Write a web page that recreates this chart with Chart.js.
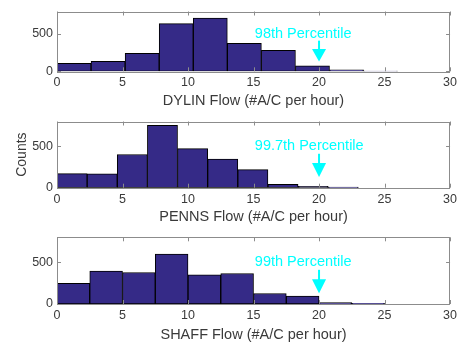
<!DOCTYPE html>
<html>
<head>
  <meta charset="utf-8">
  <title>Flow histograms</title>
  <script src="https://cdn.jsdelivr.net/npm/chart.js"></script>
  <style>
    body { margin: 0; background: #ffffff; }
    .panel { position: absolute; left: 0; width: 461px; }
  </style>
</head>
<body>
  <div class="panel" style="top:0px;height:112px"><canvas id="c1"></canvas></div>
  <div class="panel" style="top:110px;height:118px"><canvas id="c2"></canvas></div>
  <div class="panel" style="top:225px;height:121px"><canvas id="c3"></canvas></div>

  <script>
    // histogram bins (lower edge of first bin = 0), 10 bins each
    var dylinBinWidth = 2.6;
    var dylinCounts = [106, 134, 240, 638, 711, 374, 280, 73, 20, 4];
    var pennsBinWidth = 2.3;
    var pennsCounts = [171, 167, 401, 754, 472, 345, 218, 40, 16, 8];
    var shaffBinWidth = 2.5;
    var shaffCounts = [248, 394, 378, 598, 350, 366, 126, 94, 16, 8];

    var xTicks = [0, 5, 10, 15, 20, 25, 30];
    var yTicks = [0, 500];
    var xMax = 30;
    var yMax = 800;

    var xLabels = ["DYLIN Flow (#A/C per hour)", "PENNS Flow (#A/C per hour)", "SHAFF Flow (#A/C per hour)"];
    var percentileLabels = ["98th Percentile", "99.7th Percentile", "99th Percentile"];
    var arrowX = 20;        // percentile marker position
    var labelX = 15.1;      // left edge of the annotation text
    var labelY = 500;
    var arrowTop = 410;
    var arrowBottom = 130;

    var barColor = "#352A87";
    var textColor = "#3a3a3a";
    var boxColor = "#8c8c8c";
    var cyan = "#00FFFF";
    var fontFamily = "'Liberation Sans', Arial, sans-serif";

    function histPoints(width, counts) {
      var pts = [];
      for (var i = 0; i < counts.length; i++) {
        pts.push({ x: width * (i + 0.5), y: counts[i] });
      }
      return pts;
    }

    // frame, inside ticks, percentile arrow + text
    var matlabAxes = {
      id: "matlabAxes",
      afterDatasetsDraw: function (chart, args, opts) {
        var ctx = chart.ctx;
        var a = chart.chartArea;
        var xs = chart.scales.x, ys = chart.scales.y;
        ctx.save();
        ctx.strokeStyle = boxColor;
        ctx.lineWidth = 1;
        ctx.strokeRect(Math.round(a.left) + 0.5, Math.round(a.top) + 0.5,
          Math.round(a.right - a.left) - 1, Math.round(a.bottom - a.top));
        ctx.beginPath();
        xTicks.forEach(function (v) {
          var px = Math.round(xs.getPixelForValue(v)) + 0.5;
          ctx.moveTo(px, a.bottom); ctx.lineTo(px, a.bottom - 4);
          ctx.moveTo(px, a.top); ctx.lineTo(px, a.top + 4);
        });
        yTicks.forEach(function (v) {
          var py = Math.round(ys.getPixelForValue(v)) + 0.5;
          ctx.moveTo(a.left, py); ctx.lineTo(a.left + 4, py);
          ctx.moveTo(a.right, py); ctx.lineTo(a.right - 4, py);
        });
        ctx.stroke();

        // arrow
        var ax = xs.getPixelForValue(arrowX);
        var yTop = ys.getPixelForValue(arrowTop);
        var yBot = ys.getPixelForValue(arrowBottom);
        var headTop = yTop + (yBot - yTop) * 0.4;
        ctx.strokeStyle = cyan;
        ctx.fillStyle = cyan;
        ctx.lineWidth = 2;
        ctx.beginPath();
        ctx.moveTo(ax, yTop); ctx.lineTo(ax, headTop + 2);
        ctx.stroke();
        ctx.beginPath();
        ctx.moveTo(ax - 7, headTop);
        ctx.lineTo(ax + 7, headTop);
        ctx.lineTo(ax, yBot);
        ctx.closePath();
        ctx.fill();

        // text
        ctx.font = "14.5px " + fontFamily;
        ctx.textAlign = "left";
        ctx.textBaseline = "middle";
        ctx.fillText(opts.text, xs.getPixelForValue(labelX), ys.getPixelForValue(labelY));
        ctx.restore();
      }
    };

    function makeChart(id, binWidth, counts, idx, top, xHeight, showCounts) {
      return new Chart(document.getElementById(id), {
        type: "bar",
        data: {
          datasets: [{
            data: histPoints(binWidth, counts),
            backgroundColor: barColor,
            borderColor: "#000000",
            borderWidth: 1,
            borderSkipped: false,
            barPercentage: 1,
            categoryPercentage: 1
          }]
        },
        options: {
          responsive: true,
          maintainAspectRatio: false,
          animation: false,
          layout: { padding: { top: top, right: 6, left: 0, bottom: 0 } },
          plugins: {
            legend: { display: false },
            tooltip: { enabled: false },
            matlabAxes: { text: percentileLabels[idx] }
          },
          scales: {
            x: {
              type: "linear",
              min: 0,
              max: xMax,
              offset: false,
              grid: { display: false, drawTicks: false },
              border: { display: false },
              afterBuildTicks: function (s) { s.ticks = xTicks.map(function (v) { return { value: v }; }); },
              afterFit: function (s) { s.height = xHeight; },
              ticks: {
                color: textColor,
                padding: 4,
                maxRotation: 0,
                font: { family: fontFamily, size: 12.5 }
              },
              title: {
                display: true,
                text: xLabels[idx],
                color: textColor,
                padding: { top: 0, bottom: 2 },
                font: { family: fontFamily, size: 14.5 }
              }
            },
            y: {
              min: 0,
              max: yMax,
              grid: { display: false, drawTicks: false },
              border: { display: false },
              afterBuildTicks: function (s) { s.ticks = yTicks.map(function (v) { return { value: v }; }); },
              afterFit: function (s) { s.width = 57; },
              ticks: {
                color: textColor,
                padding: 4,
                font: { family: fontFamily, size: 12.5 }
              },
              title: {
                display: showCounts,
                text: "Counts",
                color: textColor,
                padding: { top: 14, bottom: 4 },
                font: { family: fontFamily, size: 14 }
              }
            }
          }
        },
        plugins: [matlabAxes]
      });
    }

    makeChart("c1", dylinBinWidth, dylinCounts, 0, 5, 40.7, false);
    makeChart("c2", pennsBinWidth, pennsCounts, 1, 10, 40.3, true);
    makeChart("c3", shaffBinWidth, shaffCounts, 2, 12.3, 42, false);
  </script>
</body>
</html>
